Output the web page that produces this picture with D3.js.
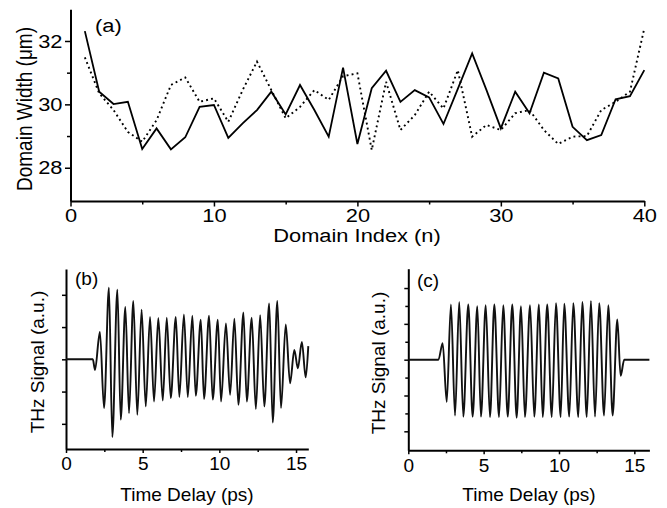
<!DOCTYPE html>
<html>
<head>
<meta charset="utf-8">
<script src="https://cdn.jsdelivr.net/npm/d3@7"></script>
<style>
  html, body { margin: 0; padding: 0; background: #fff; }
  svg { display: block; }
  text { font-family: "Liberation Sans", Arial, Helvetica, sans-serif; fill: #000; }
</style>
</head>
<body>
<svg id="fig" width="667" height="508"></svg>
<script>
// (a) domain widths along the grating
const domainIndex = [1,2,3,4,5,6,7,8,9,10,11,12,13,14,15,16,17,18,19,20,
                     21,22,23,24,25,26,27,28,29,30,31,32,33,34,35,36,37,38,39,40];
const widthSolid = [32.31, 30.40, 30.01, 30.08, 28.59, 29.24, 28.58, 28.96, 29.92, 29.98,
                    28.94, 29.40, 29.82, 30.40, 29.68, 30.61, 29.82, 28.98, 31.16, 28.75,
                    30.51, 31.06, 30.08, 30.45, 30.22, 29.38, 30.49, 31.61, 30.45, 29.24,
                    30.40, 29.72, 31.00, 30.82, 29.29, 28.87, 29.03, 30.16, 30.26, 31.08];
const widthDotted = [31.48, 30.35, 29.82, 29.13, 28.82, 29.50, 30.61, 30.85, 30.08, 30.19,
                     29.45, 30.45, 31.35, 30.45, 29.56, 29.92, 30.45, 30.14, 30.89, 30.98,
                     28.56, 30.71, 29.19, 29.66, 30.40, 29.87, 31.08, 28.98, 29.35, 29.19,
                     29.72, 29.82, 29.19, 28.75, 28.98, 29.00, 29.82, 30.08, 30.40, 32.40];
const ticksA_x = [0, 10, 20, 30, 40];
const minorA_x = [5, 15, 25, 35];
const ticksA_y = [28, 30, 32];
const minorA_y = [29, 31];

// (b) measured THz waveform: turning points (time in ps, signal in a.u.)
const timeB = [0, 1.75, 1.89, 2.21, 2.48, 2.80, 3.02, 3.35, 3.57, 3.87,
               4.11, 4.39, 4.65, 4.93, 5.20, 5.48, 5.74, 6.02, 6.31, 6.57,
               6.83, 7.16, 7.39, 7.69, 7.94, 8.24, 8.46, 8.79, 9.00, 9.33,
               9.57, 9.90, 10.11, 10.43, 10.70, 10.98, 11.24, 11.57, 11.79, 12.11,
               12.38, 12.66, 12.93, 13.25, 13.48, 13.78, 14.02, 14.33, 14.61, 14.89,
               15.12, 15.38, 15.63, 15.80];
const signalB = [0, 0, -0.33, 0.85, -1.51, 2.22, -2.41, 2.16, -1.87, 1.62,
                 -1.67, 1.81, -1.72, 1.54, -1.46, 1.31, -1.31, 1.28, -1.28, 1.29,
                 -1.20, 1.31, -1.17, 1.39, -1.17, 1.35, -1.13, 1.23, -1.23, 1.35,
                 -1.25, 1.23, -1.31, 1.11, -1.10, 1.26, -1.41, 1.45, -1.31, 1.29,
                 -1.54, 1.37, -1.46, 1.73, -1.96, 1.81, -1.51, 1.08, -0.74, 0.29,
                 -0.28, 0.54, -0.56, 0.41];

// (c) calculated THz waveform: turning points
const timeC = [0, 2.0, 2.28, 2.55, 2.83, 3.10, 3.38, 3.65, 3.98, 4.27,
               4.58, 4.82, 5.14, 5.42, 5.71, 6.02, 6.30, 6.60, 6.90, 7.19,
               7.48, 7.74, 8.08, 8.36, 8.67, 8.92, 9.22, 9.52, 9.80, 10.11,
               10.35, 10.68, 10.95, 11.28, 11.55, 11.84, 12.12, 12.39, 12.67, 12.99,
               13.27, 13.56, 13.87, 14.09, 14.33, 16.0];
const signalC = [0, 0, 0.46, -1.18, 1.54, -1.56, 1.61, -1.59, 1.54, -1.59,
                 1.49, -1.59, 1.52, -1.60, 1.54, -1.60, 1.52, -1.59, 1.54, -1.62,
                 1.49, -1.60, 1.52, -1.59, 1.54, -1.60, 1.54, -1.60, 1.58, -1.60,
                 1.56, -1.59, 1.58, -1.60, 1.61, -1.60, 1.64, -1.59, 1.58, -1.56,
                 1.52, -1.56, 1.12, -0.45, 0, 0];
const ticksT = [0, 5, 10, 15];
const minorT = [2.5, 7.5, 12.5];
const ticksB_y = [-2, -1, 0, 1, 2];
const ticksC_y = [-2, -1, 0, 1, 2];
const minorC_y = [-1.5, -0.5, 0.5, 1.5];

const svg = d3.select("#fig");
const FS = 19;
const WIDE = 1.15;   // the upper panel uses a slightly extended type

function styleAxis(g, stretch) {
  g.select(".domain").attr("stroke", "#000").attr("stroke-width", 2);
  g.selectAll(".tick line").attr("stroke", "#000").attr("stroke-width", 1.5);
  g.selectAll(".tick text").attr("font-size", FS).attr("fill", "#000")
    .attr("font-family", '"Liberation Sans", Arial, Helvetica, sans-serif')
    .attr("transform", stretch !== 1 ? `scale(${stretch},1)` : null);
}

function drawAxes(x, y, opt) {
  const y0 = y.range()[0];
  const x0 = x.range()[0];
  const s = opt.stretch || 1;
  if (opt.minorX) {
    svg.append("g").attr("transform", `translate(0,${y0})`)
      .call(d3.axisBottom(x).tickValues(opt.minorX).tickSize(opt.minorSize).tickFormat("").tickSizeOuter(0))
      .call(g => { g.select(".domain").remove(); styleAxis(g, 1); });
  }
  if (opt.minorY) {
    svg.append("g").attr("transform", `translate(${x0},0)`)
      .call(d3.axisLeft(y).tickValues(opt.minorY).tickSize(opt.minorSize).tickFormat("").tickSizeOuter(0))
      .call(g => { g.select(".domain").remove(); styleAxis(g, 1); });
  }
  svg.append("g").attr("transform", `translate(0,${y0})`)
    .call(d3.axisBottom(x).tickValues(opt.ticksX).tickSize(opt.majorSize).tickPadding(opt.padX).tickSizeOuter(0))
    .call(g => styleAxis(g, s));
  svg.append("g").attr("transform", `translate(${x0},0)`)
    .call(d3.axisLeft(y).tickValues(opt.ticksY).tickSize(opt.majorSize).tickPadding(opt.padY)
      .tickFormat(opt.yLabels ? d3.format("d") : "").tickSizeOuter(0))
    .call(g => styleAxis(g, s));
}

function label(x, y, txt, opts = {}) {
  const sx = opts.stretch || 1;
  const rot = opts.rotate ? " rotate(-90)" : "";
  svg.append("text")
    .attr("transform", `translate(${x},${y}) scale(${sx},1)${rot}`)
    .attr("text-anchor", opts.anchor || "start")
    .attr("font-size", FS)
    .text(txt);
}

// ---------- panel (a) ----------
const xA = d3.scaleLinear().domain([0, 40]).range([70.5, 644.3]);
const yA = d3.scaleLinear().domain([26.95, 33]).range([201, 9.3]);

drawAxes(xA, yA, {
  ticksX: ticksA_x, minorX: minorA_x, ticksY: ticksA_y, minorY: minorA_y,
  majorSize: 5.5, minorSize: 3.5, padX: 2.5, padY: 1.5, yLabels: true, stretch: WIDE
});

const lineA = (vals) => d3.line()
  .x((d, i) => xA(domainIndex[i]))
  .y(d => yA(d))(vals);

svg.append("path").attr("d", lineA(widthDotted))
  .attr("fill", "none").attr("stroke", "#000").attr("stroke-width", 1.9)
  .attr("stroke-dasharray", "1.9,3.2");
svg.append("path").attr("d", lineA(widthSolid))
  .attr("fill", "none").attr("stroke", "#000").attr("stroke-width", 1.8)
  .attr("stroke-linejoin", "miter");

label(95, 32, "(a)", { stretch: WIDE });
label(357, 242, "Domain Index (n)", { anchor: "middle", stretch: WIDE });
label(31.5, 109, "Domain Width (\u03bcm)", { anchor: "middle", stretch: WIDE, rotate: true });

// ---------- panels (b) and (c) ----------
function waveform(x, y, times, values) {
  const pts = times.map((t, i) => [t, values[i]]);
  svg.append("path")
    .attr("d", d3.line().x(d => x(d[0])).y(d => y(d[1])).curve(d3.curveMonotoneX)(pts))
    .attr("fill", "none").attr("stroke", "#111").attr("stroke-width", 1.9);
}

const xB = d3.scaleLinear().domain([0, 15.8]).range([66, 308.3]);
const yB = d3.scaleLinear().domain([-2.78, 2.80]).range([449, 269]);
drawAxes(xB, yB, {
  ticksX: ticksT, minorX: minorT, ticksY: ticksB_y, minorY: null,
  majorSize: 4, minorSize: 3, padX: 4, padY: 3, yLabels: false
});
waveform(xB, yB, timeB, signalB);
label(75, 285, "(b)");
label(187, 501, "Time Delay (ps)", { anchor: "middle" });
label(44, 362, "THz Signal (a.u.)", { anchor: "middle", rotate: true });

const xC = d3.scaleLinear().domain([0, 16]).range([408.3, 649.4]);
const yC = d3.scaleLinear().domain([-2.53, 2.54]).range([450.3, 268.7]);
drawAxes(xC, yC, {
  ticksX: ticksT, minorX: minorT, ticksY: ticksC_y, minorY: minorC_y,
  majorSize: 4, minorSize: 3, padX: 4, padY: 3, yLabels: false
});
waveform(xC, yC, timeC, signalC);
label(417, 287, "(c)");
label(529, 501, "Time Delay (ps)", { anchor: "middle" });
label(385, 363, "THz Signal (a.u.)", { anchor: "middle", rotate: true });
</script>
</body>
</html>
